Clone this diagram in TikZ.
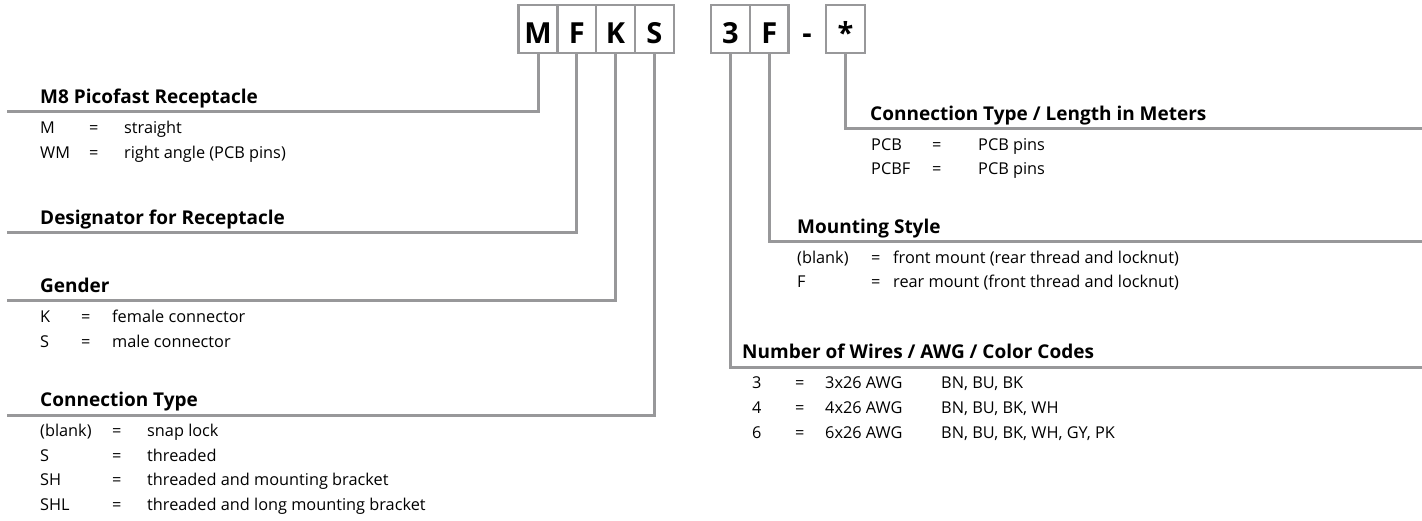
\documentclass[tikz,border=0pt]{standalone}
\usepackage{fontspec}
\setmainfont{Open Sans}
\usetikzlibrary{positioning}
\definecolor{szurke}{RGB}{152,152,154}
\tikzset{
  betu/.style={draw=szurke,line width=2.5pt,fill=white,minimum width=38.8pt,minimum height=48pt,
               text height=28.6pt,text depth=0pt,
               inner sep=0pt,outer sep=0pt,font=\fontsize{29}{32}\selectfont\bfseries},
  cim/.style={anchor=base west,inner sep=0pt,font=\fontsize{19}{22}\selectfont\bfseries},
  sor/.style={anchor=base west,inner sep=0pt,font=\fontsize{16.3}{19}\selectfont},
  vonal/.style={draw=szurke,line width=3pt},
}
\begin{document}
\begin{tikzpicture}[x=1pt,y=-1pt]
  \useasboundingbox (0,0) rectangle (1422,521);
  % the code boxes
  \node[betu] (bM) at (538,29) {M};
  \node[betu,right=0pt of bM] (bF) {F};
  \node[betu,right=0pt of bF] (bK) {K};
  \node[betu,right=0pt of bK] (bS) {S};
  \node[betu] (b3) at (730.5,29) {3};
  \node[betu,right=0pt of b3] (bF2) {F};
  \node[anchor=base,font=\fontsize{29}{32}\selectfont\bfseries,inner sep=0pt] (kot) at (807,43.3) {-};
  \node[betu] (bcs) at (845.5,29) {*};
  % free ends of the leader lines
  \coordinate (eM) at (7,112);    \coordinate (eF) at (7,233);
  \coordinate (eK) at (7,301);    \coordinate (eS) at (7,415);
  \coordinate (e3) at (1422,367); \coordinate (eF2) at (1422,242);
  \coordinate (ecs) at (1422,129);
  \foreach \b in {M,F,K,S,3,F2,cs} \draw[vonal] (b\b.south) |- (e\b);
  % left block
  \node[cim] (cM) at (40,103.5) {M8 Picofast Receptacle};
  \foreach \k/\t [count=\i from 0] in {M/straight,WM/right angle (PCB pins)} {
    \node[sor] (mk\i) at (40,133.5+25*\i) {\k};
    \node[sor] (me\i) at (89,133.5+25*\i) {=};
    \node[sor] (mt\i) at (124,133.5+25*\i) {\t};
  }
  \node[cim] (cF) at (40,224.5) {Designator for Receptacle};
  \node[cim] (cK) at (40,292.5) {Gender};
  \foreach \k/\t [count=\i from 0] in {K/female connector,S/male connector} {
    \node[sor] (kk\i) at (40,322.5+25*\i) {\k};
    \node[sor] (ke\i) at (81,322.5+25*\i) {=};
    \node[sor] (kt\i) at (112,322.5+25*\i) {\t};
  }
  \node[cim] (cS) at (40,406.5) {Connection Type};
  \foreach \k/\t [count=\i from 0] in {(blank)/snap lock,S/threaded,SH/threaded and mounting bracket,
                                        SHL/threaded and long mounting bracket} {
    \node[sor] (sk\i) at (40,436.5+24.5*\i) {\k};
    \node[sor] (se\i) at (112,436.5+24.5*\i) {=};
    \node[sor] (st\i) at (147,436.5+24.5*\i) {\t};
  }
  % right block
  \node[cim] (ccs) at (870,120.5) {Connection Type / Length in Meters};
  \foreach \k/\t [count=\i from 0] in {PCB/PCB pins,PCBF/PCB pins} {
    \node[sor] (pk\i) at (871,151+24*\i) {\k};
    \node[sor] (pe\i) at (932,151+24*\i) {=};
    \node[sor] (pt\i) at (978,151+24*\i) {\t};
  }
  \node[cim] (cF2) at (797,233.5) {Mounting Style};
  \foreach \k/\t [count=\i from 0] in {(blank)/front mount (rear thread and locknut),
                                        F/rear mount (front thread and locknut)} {
    \node[sor] (fk\i) at (797,264+24*\i) {\k};
    \node[sor] (fe\i) at (871,264+24*\i) {=};
    \node[sor] (ft\i) at (893,264+24*\i) {\t};
  }
  \node[cim] (c3) at (742,358.5) {Number of Wires / AWG / Color Codes};
  \foreach \k/\t [count=\i from 0] in {3/{BN, BU, BK},4/{BN, BU, BK, WH},6/{BN, BU, BK, WH, GY, PK}} {
    \node[sor] (wk\i) at (752,388.5+25*\i) {\k};
    \node[sor] (we\i) at (795,388.5+25*\i) {=};
    \node[sor] (wa\i) at (825,388.5+25*\i) {\k x26 AWG};
    \node[sor] (wt\i) at (941,388.5+25*\i) {\t};
  }
\end{tikzpicture}
\end{document}
